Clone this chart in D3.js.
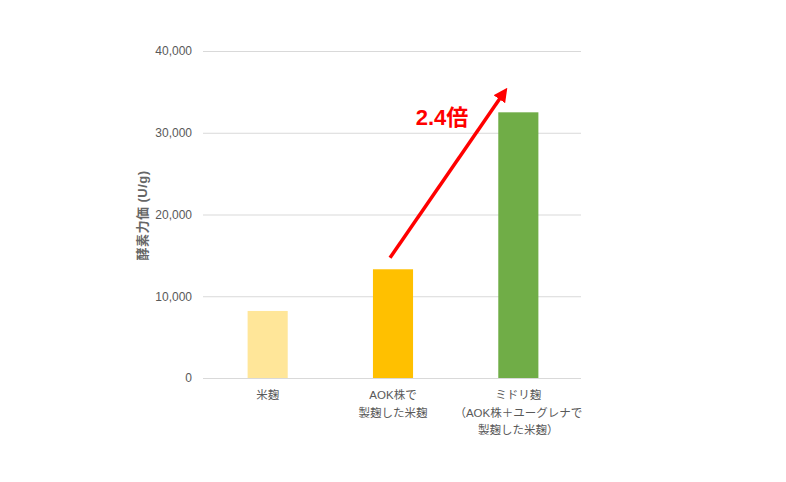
<!DOCTYPE html>
<html>
<head>
<meta charset="utf-8">
<script src="https://cdn.jsdelivr.net/npm/d3@7"></script>
<style>
  body { margin: 0; background: #fff; }
  text { font-family: Arial, "Liberation Sans", "Noto Sans CJK JP", sans-serif; }
</style>
</head>
<body>
<div id="chart"></div>
<script>
// data
const categories = ["米麹", "AOK株で\n製麹した米麹", "ミドリ麹\n（AOK株＋ユーグレナで\n製麹した米麹）"];
const values = [8200, 13300, 32500];
const colors = ["#FFE699", "#FFC000", "#70AD47"];
const yTicks = [0, 10000, 20000, 30000, 40000];
const ratioLabel = "2.4倍";

const width = 786, height = 482;
const margin = {top: 51, right: 205, bottom: 104, left: 205};

const svg = d3.select("#chart")
    .append("svg")
    .attr("width", width)
    .attr("height", height);

const g = svg.append("g")
    .attr("transform", `translate(${margin.left},${margin.top})`);

const w = width - margin.left - margin.right,
    h = height - margin.top - margin.bottom;

const x = d3.scaleBand()
    .domain(categories)
    .range([0, w])
    .paddingInner(0.68)
    .paddingOuter(0.34);

const y = d3.scaleLinear()
    .domain([0, 40000])
    .range([h, 0]);

// gridlines
g.append("g")
    .selectAll("line")
    .data(yTicks)
    .join("line")
    .attr("x1", -2)
    .attr("x2", w)
    .attr("y1", d => y(d) + 0.5)
    .attr("y2", d => y(d) + 0.5)
    .attr("stroke", "#d9d9d9")
    .attr("stroke-width", 1);

// y axis labels
const yAxis = g.append("g")
    .call(d3.axisLeft(y).tickValues(yTicks).tickSize(0).tickPadding(13).tickFormat(d3.format(",")));
yAxis.select(".domain").remove();
yAxis.selectAll("text")
    .attr("fill", "#595959")
    .style("font-size", "12px");

// y axis title
g.append("text")
    .attr("transform", `translate(${-63},${y(20000) + 1}) rotate(-90)`)
    .attr("text-anchor", "middle")
    .attr("dy", "0.35em")
    .attr("fill", "#666")
    .style("font-size", "13px")
    .style("font-weight", "bold")
    .style("letter-spacing", "0.5px")
    .text("酵素力価 (U/g)");

// bars
g.append("g")
    .selectAll("rect")
    .data(values)
    .join("rect")
    .attr("x", (d, i) => x(categories[i]))
    .attr("y", d => y(d))
    .attr("width", x.bandwidth())
    .attr("height", d => y(0) - y(d))
    .attr("fill", (d, i) => colors[i]);

// category labels
const labels = g.append("g")
    .selectAll("text")
    .data(categories)
    .join("text")
    .attr("x", d => x(d) + x.bandwidth() / 2)
    .attr("y", h + 21)
    .attr("text-anchor", "middle")
    .attr("fill", "#595959")
    .style("font-size", "11.5px");
labels.selectAll("tspan")
    .data(d => d.split("\n"))
    .join("tspan")
    .attr("x", function () { return d3.select(this.parentNode).attr("x"); })
    .attr("dy", (d, i) => i === 0 ? 0 : 17.5)
    .text(d => d);

// arrow annotation from bar 2 to above bar 3
svg.append("defs").append("marker")
    .attr("id", "head")
    .attr("viewBox", "0 0 10 10")
    .attr("refX", 5)
    .attr("refY", 5)
    .attr("markerWidth", 4)
    .attr("markerHeight", 4)
    .attr("orient", "auto")
    .append("path")
    .attr("d", "M0,0 L10,5 L0,10 z")
    .attr("fill", "#ff0000");

const x2 = x(categories[1]) + x.bandwidth() / 2;
const x3 = x(categories[2]) + x.bandwidth() / 2;
g.append("line")
    .attr("x1", x2 - 3)
    .attr("y1", y(values[1] + 1400))
    .attr("x2", x3 - 15)
    .attr("y2", y(values[2] + 2300))
    .attr("stroke", "#ff0000")
    .attr("stroke-width", 3.5)
    .attr("marker-end", "url(#head)");

g.append("text")
    .attr("x", x2 + 49)
    .attr("y", y(values[2] - 1600))
    .attr("text-anchor", "middle")
    .attr("fill", "#ff0000")
    .style("font-size", "22px")
    .style("font-weight", "bold")
    .text(ratioLabel);
</script>
</body>
</html>
